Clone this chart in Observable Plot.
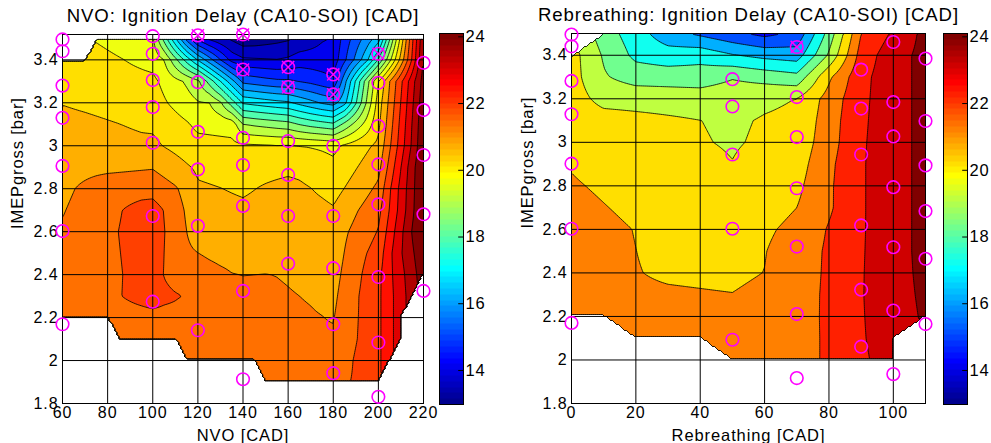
<!DOCTYPE html>
<html><head><meta charset="utf-8">
<script src="https://cdn.jsdelivr.net/npm/d3@7"></script>
<script src="https://cdn.jsdelivr.net/npm/@observablehq/plot@0.6"></script>
<style>
body{margin:0;background:#fff;}
#wrap{position:relative;width:991px;height:443px;overflow:hidden;background:#fff;}
#wrap svg{position:absolute;top:0;overflow:visible;}
</style></head><body><div id="wrap"></div>
<script>
// ---------- Left panel: NVO ----------
const nvoX = [60,60,60,60,60,60,60, 100,100,100,100,100,100,100, 120,120,120,120,120,120, 140,140,140,140,140,140,140, 160,160,160,160,160,160, 180,180,180,180,180,180,180, 200,200,200,200,200,200,200,200, 220,220,220,220,220];
const nvoY = [3.495,3.44,3.28,3.13,2.906,2.603,2.169, 3.51,3.428,3.306,3.18,3.014,2.673,2.274, 3.514,3.296,3.065,2.89,2.627,2.141, 3.518,3.355,3.037,2.91,2.72,2.324,1.913, 3.366,3.273,3.022,2.864,2.673,2.451, 3.332,3.239,2.999,2.673,2.43,2.169,1.941, 3.428,3.293,3.092,2.913,2.727,2.389,2.084,1.831, 3.386,3.166,2.957,2.681,2.324];
const nvoV = [20.43,20.49,20.6,20.875,21.1,21.376,21.43, 19.71,19.93,20.32,20.54,20.82,22.2,22.12, 14.09,19.32,20.21,20.71,21.04,21.42, 12.98,14.65,20.21,20.54,20.82,21.43,21.54, 14.43,15.65,20.15,20.82,21.04,21.26, 14.43,15.32,20.1,20.88,21.1,21.32,21.54, 17.43,20.32,20.65,21.1,21.66,22.32,22.32,22.32, 24.21,24.5,24.65,24.76,24.32];
const nvoCross = [0,0,0,0,0,0,0, 0,0,0,0,0,0,0, 1,0,0,0,0,0, 1,1,0,0,0,0,0, 1,1,0,0,0,0, 1,1,0,0,0,0,0, 1,0,0,0,0,0,0,0, 0,0,0,0,0];
// extra samples along the top edge used by the gridding
const nvoTopX = [160,180,200,220];
const nvoTopY = [3.52,3.52,3.52,3.52];
const nvoTopV = [13.31,14.09,16.32,23.99];
const nvoGridX = d3.range(60, 220.001, 5);
const nvoGridY = d3.range(1.8, 3.5001, 0.1);
const nvoLevels = [12.98,13.536,14.092,14.648,15.204,15.76,16.316,16.872,17.428,17.984,18.54,19.096,19.652,20.208,20.764,21.32,21.876,22.432,22.988,23.544,24.1];
const nvoTicksX = [60,80,100,120,140,160,180,200,220];
const nvoTicksY = [1.8,2,2.2,2.4,2.6,2.8,3,3.2,3.4];

// ---------- Right panel: Rebreathing ----------
const rebX = [0,0,0,0,0,0,0, 50,50,50,50,50, 70,70,70,70,70,70,70, 90,90,90,90,90,90, 100,100,100,100,100,100,100, 110,110,110,110,110,110];
const rebY = [3.495,3.441,3.282,3.129,2.902,2.603,2.17, 3.29,3.165,2.944,2.603,2.093, 3.438,3.208,3.024,2.789,2.521,2.211,1.917, 3.334,3.155,2.944,2.618,2.323,2.061, 3.461,3.185,3.027,2.794,2.518,2.227,1.935, 3.385,3.098,2.894,2.684,2.465,2.165];
const rebV = [19.9,20.6,20.6,20.7,21.15,21.5,21.6, 19.3,20.05,20.15,20.7,21.57, 16.0,20.2,20.5,21.0,21.6,21.7,21.7, 22.9,23.0,23.1,23.1,23.15,23.1, 23.8,23.8,23.8,23.8,23.8,23.8,23.6, 24.5,24.5,24.5,24.5,24.5,24.3];
const rebCross = [0,0,0,0,0,0,0, 0,0,0,0,0, 1,0,0,0,0,0,0, 0,0,0,0,0,0, 0,0,0,0,0,0,0, 0,0,0,0,0,0];
const rebTopX = [10,30,45,62,72,80,90,110];
const rebTopY = [3.5,3.5,3.5,3.5,3.5,3.5,3.5,3.5];
const rebTopV = [18.7,16.6,15.7,14.8,15.6,18.6,22.2,24.5];
const rebGridX = d3.range(0, 110.001, 10);
const rebGridY = d3.range(1.8, 3.5001, 0.1);
const rebLevels = [12.9,13.2,14.2,15.2,16.2,17.2,18.2,19.2,20.2,21.2,22.2,23.2,24.2];
const rebTicksX = [0,20,40,60,80,100];
const rebTicksY = [1.8,2,2.2,2.4,2.6,2.8,3,3.2,3.4];

// ---------- colour bar ----------
const cMin = 12.98, cMax = 24.1;
const cbTicks = [14,16,18,20,22,24];

const FONT = "'Liberation Sans', Arial, Helvetica, sans-serif";

// MATLAB jet(64)
function jet64(k) {
  const u = j => (j < 1 || j > 47) ? 0 : j <= 16 ? j / 16 : j <= 31 ? 1 : (48 - j) / 16;
  return d3.rgb(255 * u(k - 24), 255 * u(k - 8), 255 * u(k + 8)).formatHex();
}
const jetInterp = t => jet64(Math.max(1, Math.min(64, Math.floor(t * 64 + 1e-9) + 1)));
const colorOpts = {type: "linear", domain: [cMin, cMax], interpolate: jetInterp};

function samples(X, Y, V, TX, TY, TV) {
  const a = X.map((x, i) => ({x, y: Y[i], v: V[i]}));
  return a.concat(TX.map((x, i) => ({x, y: TY[i], v: TV[i]})));
}
function markers(X, Y, C) { return X.map((x, i) => ({x, y: Y[i], c: C[i]})); }

// linear gridding (Delaunay in screen space) onto a coarse mesh, NaN outside the hull,
// then linear cell interpolation onto the raster
function makeGridInterp(pts, nodeX, nodeY) {
  return (index, w, h, X, Y, V) => {
    const I = Array.from(index);
    const i0 = I[0];
    const ix = I.find(i => pts[i].x !== pts[i0].x);
    const iy = I.find(i => pts[i].y !== pts[i0].y);
    const ax = (X[ix] - X[i0]) / (pts[ix].x - pts[i0].x), bx = X[i0] - ax * pts[i0].x;
    const ay = (Y[iy] - Y[i0]) / (pts[iy].y - pts[i0].y), by = Y[i0] - ay * pts[i0].y;
    const px = I.map(i => X[i]), py = I.map(i => Y[i]), pv = I.map(i => V[i]);
    const del = d3.Delaunay.from(I, i => X[i], i => Y[i]);
    const tri = del.triangles;
    const nx = nodeX.length, ny = nodeY.length;
    const NX = nodeX.map(x => ax * x + bx), NY = nodeY.map(y => ay * y + by);
    const G = new Float64Array(nx * ny).fill(NaN);
    for (let t = 0; t < tri.length; t += 3) {
      const a = tri[t], b = tri[t + 1], c = tri[t + 2];
      const xa = px[a], ya = py[a], xb = px[b], yb = py[b], xc = px[c], yc = py[c];
      const det = (yb - yc) * (xa - xc) + (xc - xb) * (ya - yc);
      if (Math.abs(det) < 1e-9) continue;
      for (let j = 0; j < ny; j++) for (let i = 0; i < nx; i++) {
        const x = NX[i], y = NY[j];
        const l1 = ((yb - yc) * (x - xc) + (xc - xb) * (y - yc)) / det;
        const l2 = ((yc - ya) * (x - xc) + (xa - xc) * (y - yc)) / det;
        const l3 = 1 - l1 - l2;
        if (l1 >= -1e-6 && l2 >= -1e-6 && l3 >= -1e-6) G[j * nx + i] = l1 * pv[a] + l2 * pv[b] + l3 * pv[c];
      }
    }
    const W = new Float64Array(w * h).fill(NaN);
    const x0 = nodeX[0], dxn = nodeX[1] - nodeX[0], y0 = nodeY[0], dyn = nodeY[1] - nodeY[0];
    const e = 1e-6;
    for (let r = 0; r < h; r++) {
      const y = ((r + 0.5) - by) / ay;
      const fy = (y - y0) / dyn;
      if (fy < -e || fy > ny - 1 + e) continue;
      const j0 = Math.min(Math.max(Math.floor(fy), 0), ny - 2), s = fy - j0;
      for (let c = 0; c < w; c++) {
        const x = ((c + 0.5) - bx) / ax;
        const fx = (x - x0) / dxn;
        if (fx < -e || fx > nx - 1 + e) continue;
        const k0 = Math.min(Math.max(Math.floor(fx), 0), nx - 2), t = fx - k0;
        const v00 = G[j0 * nx + k0], v10 = G[j0 * nx + k0 + 1], v01 = G[(j0 + 1) * nx + k0], v11 = G[(j0 + 1) * nx + k0 + 1];
        const n00 = isNaN(v00), n10 = isNaN(v10), n01 = isNaN(v01), n11 = isNaN(v11);
        const nn = n00 + n10 + n01 + n11;
        let v = NaN;
        if (nn === 0) v = v00 * (1 - t) * (1 - s) + v10 * t * (1 - s) + v01 * (1 - t) * s + v11 * t * s;
        else if (nn === 1) {
          if (n00) { if (t + s >= 1 - e) v = (v10 + v01 - v11) + (v11 - v01) * t + (v11 - v10) * s; }
          else if (n11) { if (t + s <= 1 + e) v = v00 + (v10 - v00) * t + (v01 - v00) * s; }
          else if (n10) { if (s >= t - e) v = v00 + (v11 - v01) * t + (v01 - v00) * s; }
          else if (n01) { if (t >= s - e) v = v00 + (v10 - v00) * t + (v11 - v10) * s; }
        }
        W[r * w + c] = v;
      }
    }
    return W;
  };
}

function panel(o) {
  const pts = samples(o.X, o.Y, o.V, o.TX, o.TY, o.TV);
  const mk = markers(o.X, o.Y, o.C);
  return Plot.plot({
    width: o.width, height: 443,
    marginLeft: o.ml, marginRight: o.mr, marginTop: o.mt, marginBottom: o.mb,
    style: {fontFamily: FONT, fontSize: "16px", color: "black", background: "transparent", letterSpacing: "0.9px"},
    x: {domain: o.xd, ticks: o.tx, tickSize: 0, tickPadding: 3, tickFormat: d => String(d), label: null},
    y: {domain: o.yd, ticks: o.ty, tickSize: 0, tickPadding: 4, tickFormat: d => String(d), label: null},
    color: colorOpts,
    marks: [
      Plot.contour(pts, {x: "x", y: "y", fill: "v", thresholds: o.levels, interpolate: makeGridInterp(pts, o.gx, o.gy), stroke: "black", strokeWidth: 0.8}),
      Plot.gridX(o.tx, {stroke: "black", strokeOpacity: 1, strokeWidth: 1}),
      Plot.gridY(o.ty, {stroke: "black", strokeOpacity: 1, strokeWidth: 1}),
      Plot.frame({stroke: "black", strokeWidth: 1}),
      Plot.dot(mk, {x: "x", y: "y", r: 6.3, stroke: "#ff00ff", strokeWidth: 1.6, fill: "none"}),
      Plot.dot(mk.filter(d => d.c), {x: "x", y: "y", r: 5.6, symbol: "times", stroke: "#ff00ff", strokeWidth: 1.5}),
      Plot.text([o.title], {frameAnchor: "top", dy: -13, lineAnchor: "bottom", fontSize: 18.6, fill: "black"}),
      Plot.text([o.xlabel], {frameAnchor: "bottom", dy: 37, lineAnchor: "bottom", fontSize: 16.5, fill: "black"}),
      Plot.text(["IMEPgross [bar]"], {frameAnchor: "left", dx: o.ylabDx, dy: 10, rotate: -90, fontSize: 16.5, fill: "black"})
    ]
  });
}

function colorbar() {
  return Plot.plot({
    width: 60, height: 443, marginLeft: 9, marginRight: 27, marginTop: 33, marginBottom: 39,
    style: {fontFamily: FONT, fontSize: "16.5px", color: "black", background: "transparent", letterSpacing: "0.8px"},
    x: {domain: [0, 1], axis: null},
    y: {domain: [cMin, cMax], axis: "right", ticks: cbTicks, tickSize: 0, tickPadding: 2, tickFormat: d => String(d), label: null},
    color: colorOpts,
    marks: [
      Plot.raster({fill: (x, y) => y, x1: 0, x2: 1, y1: cMin, y2: cMax}),
      Plot.ruleY(cbTicks, {x1: 0.8, x2: 1, stroke: "black"}),
      Plot.frame({stroke: "black"})
    ]
  });
}

const wrap = document.getElementById("wrap");
function place(node, left) { node.style.left = left + "px"; wrap.appendChild(node); }

place(panel({
  X: nvoX, Y: nvoY, V: nvoV, C: nvoCross, TX: nvoTopX, TY: nvoTopY, TV: nvoTopV,
  gx: nvoGridX, gy: nvoGridY, levels: nvoLevels,
  width: 440, ml: 62, mr: 17, mt: 34, mb: 40,
  xd: [60, 220], yd: [1.8, 3.518], tx: nvoTicksX, ty: nvoTicksY,
  title: "NVO: Ignition Delay (CA10-SOI) [CAD]", xlabel: "NVO [CAD]", ylabDx: -45
}), 0);
place(colorbar(), 430);
place(panel({
  X: rebX, Y: rebY, V: rebV, C: rebCross, TX: rebTopX, TY: rebTopY, TV: rebTopV,
  gx: rebGridX, gy: rebGridY, levels: rebLevels,
  width: 440, ml: 71, mr: 15, mt: 33, mb: 40,
  xd: [0, 110], yd: [1.8, 3.5], tx: rebTicksX, ty: rebTicksY,
  title: "Rebreathing: Ignition Delay (CA10-SOI) [CAD]", xlabel: "Rebreathing [CAD]", ylabDx: -44
}), 500);
place(colorbar(), 934);
</script></body></html>
